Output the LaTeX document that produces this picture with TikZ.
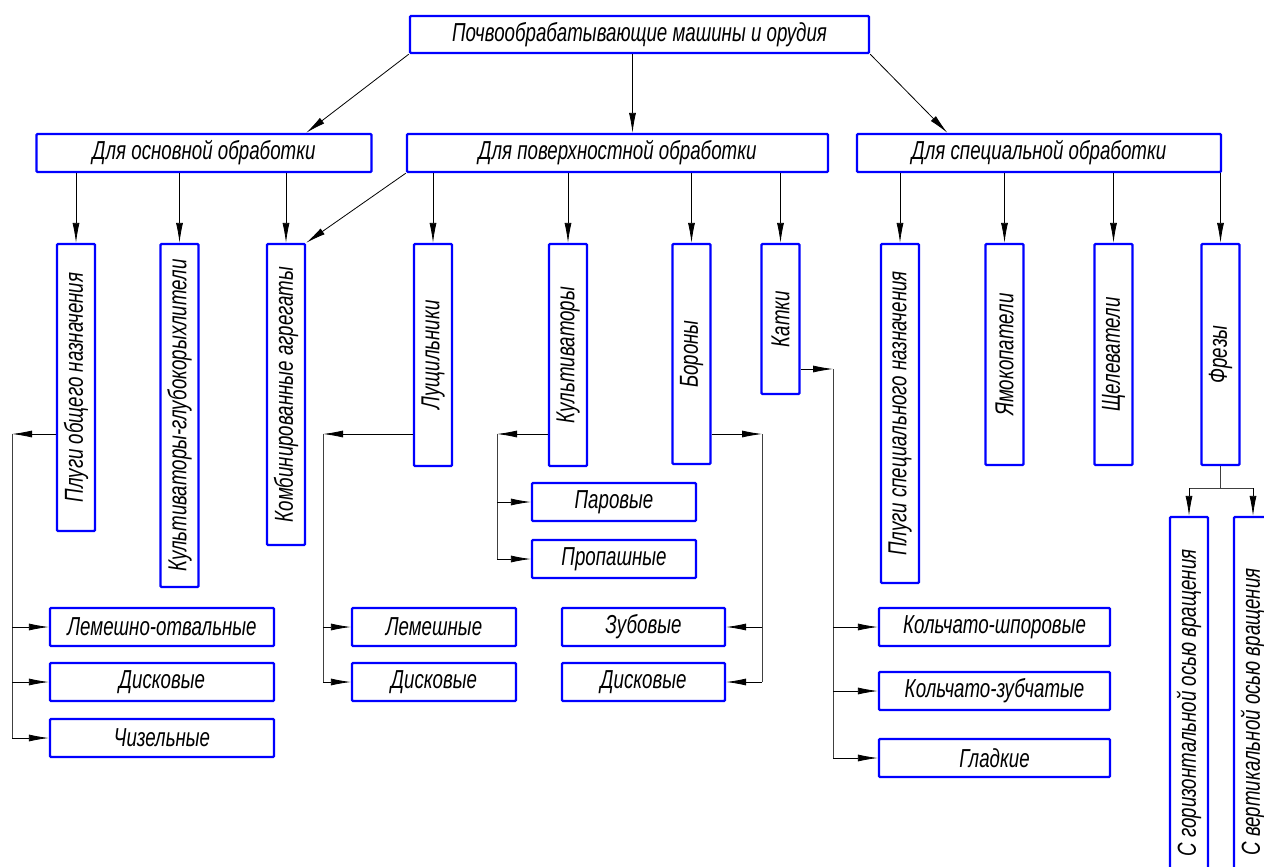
\documentclass[tikz,border=0pt]{standalone}
\usepackage{fontspec}
\newfontfamily\gost[FakeStretch=0.72]{Liberation Sans}
\usetikzlibrary{arrows.meta,calc}
\newcommand\gostfont{\gost\itshape\fontsize{26pt}{28pt}\selectfont}
\newcommand\rotv[1]{\rotatebox{90}{#1}}
\tikzset{
  box/.style={draw=blue, line width=2.3pt, rounded corners=1pt, inner sep=0pt, font=\gostfont, fill=white},
  hb/.style={box, minimum height=38pt},
  vb/.style={box, minimum width=38pt},
  arr/.style={draw=black, line width=0.8pt, -{Latex[length=20pt,width=7pt]}},
  ln/.style={draw=black!75, line width=0.8pt},
}
\begin{document}
\begin{tikzpicture}[x=1pt,y=-1pt]
\useasboundingbox (0,0) rectangle (1264,867);
% level 1
\node[hb, minimum width=459pt, minimum height=37pt] (top) at (639.5,34.5) {Почвообрабатывающие машины и орудия};
% level 2
\node[hb, minimum width=335pt] (osn) at (204,153) {Для основной обработки};
\node[hb, minimum width=421pt] (pov) at (617.5,153) {Для поверхностной обработки};
\node[hb, minimum width=364pt] (spec) at (1039,153) {Для специальной обработки};
% level 3
\node[vb, minimum height=287pt] (v1) at (76,387.5) {\rotv{Плуги общего назначения}};
\node[vb, minimum height=343pt] (v2) at (179.5,415.5) {\rotv{Культиваторы-глубокорыхлители}};
\node[vb, minimum height=301pt] (v3) at (286,394.5) {\rotv{Комбинированные агрегаты}};
\node[vb, minimum height=222pt] (v4) at (433,355) {\rotv{Лущильники}};
\node[vb, minimum height=222pt] (v5) at (568,355) {\rotv{Культиваторы}};
\node[vb, minimum height=220pt] (v6) at (691.5,354) {\rotv{Бороны}};
\node[vb, minimum height=150pt] (v7) at (780.5,319) {\rotv{Катки}};
\node[vb, minimum height=339pt] (v8) at (900,413.5) {\rotv{Плуги специального назначения}};
\node[vb, minimum height=221pt] (v9) at (1004.5,354.5) {\rotv{Ямокопатели}};
\node[vb, minimum height=221pt] (v10) at (1113.5,354.5) {\rotv{Щелеватели}};
\node[vb, minimum height=221pt] (v11) at (1220.5,354.5) {\rotv{Фрезы}};
% level 4
\node[hb, minimum width=224pt] (b1) at (162,627) {Лемешно-отвальные};
\node[hb, minimum width=224pt] (b2) at (162,682) {Дисковые};
\node[hb, minimum width=224pt] (b3) at (162,738) {Чизельные};
\node[hb, minimum width=164pt] (b4) at (434,627) {Лемешные};
\node[hb, minimum width=164pt] (b5) at (434,682) {Дисковые};
\node[hb, minimum width=164pt] (b6) at (614,502) {Паровые};
\node[hb, minimum width=164pt] (b7) at (614,559) {Пропашные};
\node[hb, minimum width=163pt] (b8) at (643.5,627) {Зубовые};
\node[hb, minimum width=163pt] (b9) at (643.5,682) {Дисковые};
\node[hb, minimum width=231pt] (b10) at (994.5,627) {Кольчато-шпоровые};
\node[hb, minimum width=231pt] (b11) at (994.5,691) {Кольчато-зубчатые};
\node[hb, minimum width=231pt] (b12) at (994.5,758) {Гладкие};
\node[vb, minimum height=372pt] (f1) at (1189,703) {\rotv{С горизонтальной осью вращения}};
\node[vb, minimum height=390pt] (f2) at (1253,712) {\rotv{С вертикальной осью вращения}};
% arrows level 1 -> 2
\draw[arr] (top.south west) -- (osn.north -| v3.north east);
\draw[arr] ([xshift=-7pt]top.south) -- ([xshift=-7pt]top.south |- pov.north);
\draw[arr] (top.south east) -- ($(spec.north west)!0.25!(spec.north east)$);
% arrows level 2 -> 3
\foreach \v in {v1,v2,v3} \draw[arr] (osn.south -| \v.north) -- (\v.north);
\foreach \v in {v4,v5,v6,v7} \draw[arr] (pov.south -| \v.north) -- (\v.north);
\foreach \v in {v8,v9,v10,v11} \draw[arr] (spec.south -| \v.north) -- (\v.north);
\draw[arr] (pov.south west) -- (v3.north east);
% branch corners
\coordinate (c1) at (12,434);
\coordinate (c2) at (323,434);
\coordinate (c3) at (497,434);
\coordinate (c4) at (762,434);
\coordinate (c5) at (833,369);
\coordinate (c6) at (1220.5,488);
% Плуги общего назначения
\draw[arr] (v1.west |- c1) -- (c1);
\draw[ln] (c1) -- (c1 |- b3.west);
\foreach \b in {b1,b2,b3} \draw[arr] (c1 |- \b.west) -- (\b.west);
% Лущильники
\draw[arr] (v4.west |- c2) -- (c2);
\draw[ln] (c2) -- (c2 |- b5.west);
\foreach \b in {b4,b5} \draw[arr] (c2 |- \b.west) -- (\b.west);
% Культиваторы
\draw[arr] (v5.west |- c3) -- (c3);
\draw[ln] (c3) -- (c3 |- b7.west);
\foreach \b in {b6,b7} \draw[arr] (c3 |- \b.west) -- (\b.west);
% Бороны
\draw[arr] (v6.east |- c4) -- (c4);
\draw[ln] (c4) -- (c4 |- b9.east);
\foreach \b in {b8,b9} \draw[arr] (c4 |- \b.east) -- (\b.east);
% Катки
\draw[arr] (v7.east |- c5) -- (c5);
\draw[ln] (c5) -- (c5 |- b12.west);
\foreach \b in {b10,b11,b12} \draw[arr] (c5 |- \b.west) -- (\b.west);
% Фрезы
\draw[ln] (v11.south) -- (c6);
\draw[ln] (f1.north |- c6) -- (f2.north |- c6);
\foreach \f in {f1,f2} \draw[arr] (\f.north |- c6) -- (\f.north);
\end{tikzpicture}
\end{document}
